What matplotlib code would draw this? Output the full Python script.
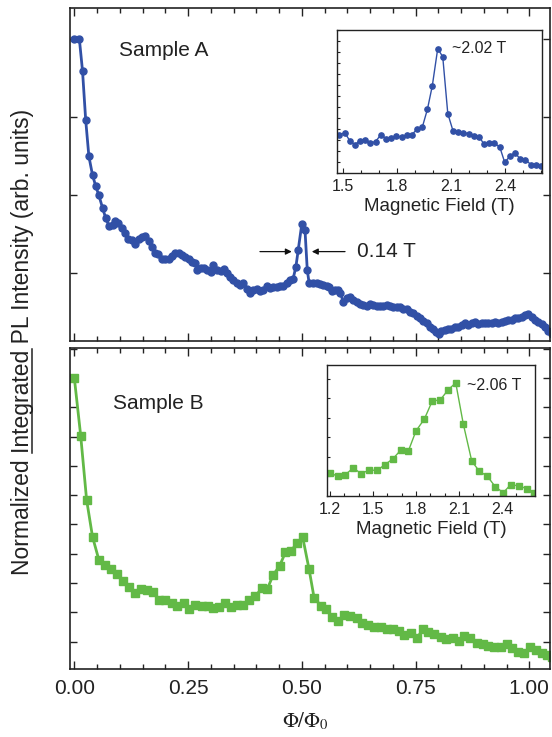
import matplotlib
matplotlib.use("Agg")
import matplotlib.pyplot as plt
from matplotlib.ticker import MultipleLocator, FormatStrFormatter
from matplotlib.lines import Line2D

plt.rcParams['font.family'] = ['Liberation Sans', 'DejaVu Sans']

# Sample A, main panel (flux in units of flux quantum, normalized PL)
flux_a = [0.000, 0.011, 0.018, 0.025, 0.032, 0.040, 0.047, 0.054, 0.062, 0.069,
          0.076, 0.084, 0.089, 0.097, 0.105, 0.112, 0.119, 0.126, 0.134, 0.142,
          0.149, 0.156, 0.164, 0.171, 0.178, 0.185, 0.193, 0.200, 0.207, 0.215,
          0.222, 0.229, 0.237, 0.244, 0.251, 0.259, 0.266, 0.270, 0.278, 0.285,
          0.292, 0.300, 0.305, 0.313, 0.322, 0.329, 0.335, 0.342, 0.349, 0.357,
          0.364, 0.371, 0.379, 0.386, 0.393, 0.401, 0.408, 0.415, 0.423, 0.430,
          0.437, 0.445, 0.452, 0.459, 0.467, 0.474, 0.481, 0.487, 0.492, 0.500,
          0.507, 0.512, 0.516, 0.525, 0.533, 0.540, 0.547, 0.555, 0.560, 0.566,
          0.573, 0.580, 0.585, 0.591, 0.599, 0.606, 0.613, 0.621, 0.628, 0.635,
          0.643, 0.650, 0.657, 0.665, 0.672, 0.679, 0.687, 0.694, 0.701, 0.709,
          0.716, 0.723, 0.731, 0.738, 0.745, 0.753, 0.760, 0.767, 0.775, 0.782,
          0.789, 0.796, 0.802, 0.807, 0.815, 0.822, 0.829, 0.837, 0.844, 0.851,
          0.859, 0.866, 0.873, 0.881, 0.888, 0.895, 0.903, 0.910, 0.917, 0.925,
          0.932, 0.939, 0.947, 0.954, 0.961, 0.969, 0.976, 0.983, 0.991, 0.998,
          1.005, 1.013, 1.020, 1.027, 1.034, 1.042, 1.049]
pl_a = [1.000, 1.000, 0.918, 0.792, 0.699, 0.651, 0.623, 0.599, 0.567, 0.541,
        0.521, 0.522, 0.533, 0.527, 0.515, 0.502, 0.486, 0.485, 0.474, 0.486,
        0.493, 0.496, 0.483, 0.466, 0.451, 0.449, 0.435, 0.436, 0.436, 0.443,
        0.452, 0.451, 0.446, 0.442, 0.436, 0.429, 0.425, 0.409, 0.414, 0.414,
        0.409, 0.403, 0.421, 0.408, 0.406, 0.411, 0.401, 0.389, 0.382, 0.375,
        0.369, 0.374, 0.358, 0.349, 0.356, 0.360, 0.355, 0.356, 0.367, 0.363,
        0.365, 0.365, 0.367, 0.368, 0.375, 0.382, 0.386, 0.416, 0.459, 0.526,
        0.510, 0.408, 0.375, 0.375, 0.374, 0.372, 0.369, 0.367, 0.365, 0.355,
        0.356, 0.356, 0.349, 0.326, 0.335, 0.339, 0.331, 0.326, 0.322, 0.318,
        0.315, 0.322, 0.318, 0.315, 0.315, 0.315, 0.318, 0.315, 0.314, 0.314,
        0.312, 0.309, 0.307, 0.301, 0.297, 0.290, 0.284, 0.278, 0.271, 0.262,
        0.256, 0.249, 0.245, 0.252, 0.254, 0.256, 0.258, 0.261, 0.262, 0.267,
        0.271, 0.267, 0.271, 0.275, 0.269, 0.271, 0.271, 0.273, 0.271, 0.274,
        0.271, 0.275, 0.278, 0.279, 0.281, 0.284, 0.286, 0.288, 0.292, 0.295,
        0.288, 0.281, 0.275, 0.269, 0.261, 0.252, 0.245]

# Sample A, inset (magnetic field in T)
field_a = [1.478, 1.511, 1.539, 1.567, 1.594, 1.624, 1.652, 1.681, 1.711, 1.739,
           1.768, 1.796, 1.826, 1.854, 1.883, 1.913, 1.941, 1.969, 1.996, 2.026,
           2.054, 2.082, 2.111, 2.139, 2.168, 2.198, 2.226, 2.256, 2.283, 2.313,
           2.341, 2.371, 2.398, 2.428, 2.456, 2.485, 2.513, 2.543, 2.571, 2.598]
inset_a = [0.311, 0.324, 0.259, 0.230, 0.262, 0.270, 0.243, 0.254, 0.311, 0.278,
           0.284, 0.297, 0.292, 0.305, 0.311, 0.357, 0.373, 0.516, 0.705, 1.005,
           0.941, 0.481, 0.341, 0.332, 0.327, 0.319, 0.300, 0.295, 0.232, 0.243,
           0.243, 0.208, 0.086, 0.138, 0.162, 0.111, 0.108, 0.068, 0.065, 0.057]

# Sample B, main panel
flux_b = [0.000, 0.014, 0.027, 0.040, 0.054, 0.067, 0.080, 0.093, 0.106, 0.120,
          0.133, 0.147, 0.160, 0.174, 0.187, 0.200, 0.214, 0.226, 0.240, 0.253,
          0.265, 0.280, 0.293, 0.305, 0.319, 0.331, 0.344, 0.358, 0.371, 0.385,
          0.398, 0.412, 0.424, 0.437, 0.451, 0.464, 0.477, 0.489, 0.502, 0.516,
          0.527, 0.542, 0.553, 0.567, 0.580, 0.593, 0.607, 0.621, 0.633, 0.646,
          0.659, 0.673, 0.687, 0.700, 0.713, 0.725, 0.739, 0.753, 0.766, 0.778,
          0.791, 0.805, 0.818, 0.832, 0.845, 0.857, 0.870, 0.884, 0.898, 0.910,
          0.923, 0.937, 0.950, 0.963, 0.976, 0.989, 1.002, 1.015, 1.027, 1.040,
          1.049]
pl_b = [1.000, 0.803, 0.584, 0.458, 0.379, 0.362, 0.347, 0.330, 0.308, 0.288,
        0.267, 0.279, 0.276, 0.269, 0.242, 0.242, 0.231, 0.223, 0.231, 0.212,
        0.225, 0.222, 0.222, 0.214, 0.219, 0.233, 0.219, 0.225, 0.225, 0.242,
        0.256, 0.282, 0.279, 0.328, 0.358, 0.405, 0.410, 0.437, 0.456, 0.347,
        0.250, 0.223, 0.211, 0.185, 0.171, 0.191, 0.188, 0.180, 0.165, 0.157,
        0.151, 0.149, 0.144, 0.142, 0.138, 0.123, 0.131, 0.112, 0.142, 0.134,
        0.126, 0.115, 0.108, 0.114, 0.103, 0.119, 0.112, 0.095, 0.092, 0.085,
        0.083, 0.081, 0.092, 0.077, 0.066, 0.060, 0.083, 0.072, 0.060, 0.055,
        0.049]

# Sample B, inset
field_b = [1.200, 1.254, 1.307, 1.363, 1.416, 1.472, 1.530, 1.584, 1.638, 1.693,
           1.746, 1.800, 1.858, 1.914, 1.968, 2.023, 2.077, 2.130, 2.189, 2.242,
           2.298, 2.354, 2.409, 2.461, 2.517, 2.573, 2.626]
inset_b = [0.230, 0.197, 0.214, 0.280, 0.224, 0.257, 0.257, 0.314, 0.370, 0.457,
           0.447, 0.650, 0.767, 0.950, 0.957, 1.057, 1.130, 0.717, 0.347, 0.247,
           0.197, 0.090, 0.034, 0.114, 0.100, 0.074, 0.030]

blue = '#3150a6'
green = '#62b946'
ink = '#222222'
W, H = 552, 737

fig = plt.figure(figsize=(5.52, 7.37), dpi=100)
ax1 = fig.add_axes([70 / W, 1 - 341 / H, 480 / W, 333 / H])
ax2 = fig.add_axes([70 / W, 1 - 669 / H, 480 / W, 321 / H])

ax1.plot(flux_a, pl_a, '-o', color=blue, lw=2.0, ms=5.0)
ax2.plot(flux_b, pl_b, '-s', color=green, lw=2.0, ms=5.4)

ax1.set_xlim(-0.0095, 1.0455)
ax2.set_xlim(-0.0095, 1.0455)
ax1.set_ylim(0.226, 1.079)
ax2.set_ylim(0.007, 1.102)

for ax in (ax1, ax2):
    ax.xaxis.set_major_locator(MultipleLocator(0.25))
    ax.xaxis.set_minor_locator(MultipleLocator(0.05))
    ax.tick_params(which='both', direction='in', top=True, right=True,
                   width=1.0, colors=ink)
    ax.tick_params(which='major', length=6)
    ax.tick_params(which='minor', length=3.5)
    ax.tick_params(axis='y', which='major', length=5)
    for s in ax.spines.values():
        s.set_linewidth(1.2)
        s.set_color(ink)
ax1.yaxis.set_major_locator(MultipleLocator(0.2))
ax2.yaxis.set_major_locator(MultipleLocator(0.1))
ax1.tick_params(labelbottom=False, labelleft=False)
ax2.tick_params(labelleft=False)
ax2.tick_params(axis='x', labelsize=15, pad=7)
ax2.xaxis.set_major_formatter(FormatStrFormatter('%.2f'))

ax1.text(0.098, 0.956, 'Sample A', fontsize=15, va='baseline', color=ink)
ax2.text(0.086, 0.894, 'Sample B', fontsize=15, va='baseline', color=ink)

# 0.14 T width arrows
arrow = dict(arrowstyle='-|>', color='#111111', lw=0.9, mutation_scale=9,
             shrinkA=0, shrinkB=0)
ax1.annotate('', xy=(0.478, 0.455), xytext=(0.408, 0.455), arrowprops=arrow)
ax1.annotate('', xy=(0.522, 0.455), xytext=(0.595, 0.455), arrowprops=arrow)
ax1.text(0.621, 0.454, '0.14 T', fontsize=15, va='center', color=ink)

# insets
ia = fig.add_axes([337 / W, 1 - 173 / H, 205 / W, 143 / H])
ia.plot(field_a, inset_a, '-o', color=blue, lw=1.0, ms=3.8)
ia.set_xlim(1.467, 2.605)
ia.set_ylim(0, 1.157)
ia.text(2.104, 1.008, '~2.02 T', fontsize=11.5, va='center', color=ink)

ib = fig.add_axes([327 / W, 1 - 496 / H, 208 / W, 131 / H])
ib.plot(field_b, inset_b, '-s', color=green, lw=1.0, ms=3.8)
ib.set_xlim(1.179, 2.63)
ib.set_ylim(0, 1.307)
ib.text(2.154, 1.107, '~2.06 T', fontsize=11.5, va='center', color=ink)

for ax, ystep in ((ia, 0.089), (ib, 0.195)):
    ax.xaxis.set_major_locator(MultipleLocator(0.3))
    ax.xaxis.set_minor_locator(MultipleLocator(0.1))
    ax.xaxis.set_major_formatter(FormatStrFormatter('%.1f'))
    ax.yaxis.set_major_locator(MultipleLocator(ystep))
    ax.tick_params(which='both', direction='in', width=0.8, colors=ink)
    ax.tick_params(which='major', length=3.5)
    ax.tick_params(which='minor', length=2)
    ax.tick_params(axis='y', length=2.5, labelleft=False)
    ax.tick_params(axis='x', labelsize=11.5, pad=4)
    ax.set_xlabel('Magnetic Field (T)', fontsize=13.5, labelpad=3.5, color=ink)
    for s in ax.spines.values():
        s.set_linewidth(1.0)
        s.set_color(ink)

# y label with underlined "Integrated"
ylab_fs = 16.5
ylab = fig.text(23 / W, 1 - 341.5 / H,
                'Normalized Integrated PL Intensity (arb. units)',
                rotation=90, fontsize=ylab_fs, ha='center', va='center', color=ink)
fig.canvas.draw()
renderer = fig.canvas.get_renderer()
bb = ylab.get_window_extent(renderer)
prop = ylab.get_fontproperties()
w_both, _, _ = renderer.get_text_width_height_descent('Normalized Integrated', prop, ismath=False)
w_int, _, _ = renderer.get_text_width_height_descent('Integrated', prop, ismath=False)
_, _, desc = renderer.get_text_width_height_descent('Normalized Integrated PL Intensity (arb. units)', prop, ismath=False)
y_start = bb.y0 + (w_both - w_int)
y_end = bb.y0 + w_both
x_line = bb.x1 - desc + 2.5
fig.add_artist(Line2D([x_line / W, x_line / W], [y_start / H, y_end / H],
                      transform=fig.transFigure, color=ink, lw=1.1))

fig.text(305 / W, 1 - 727 / H, r'$\Phi/\Phi_0$', fontsize=15, ha='center',
         va='baseline', math_fontfamily='stix', color=ink)

fig.savefig('out.png', dpi=100, facecolor='white')
